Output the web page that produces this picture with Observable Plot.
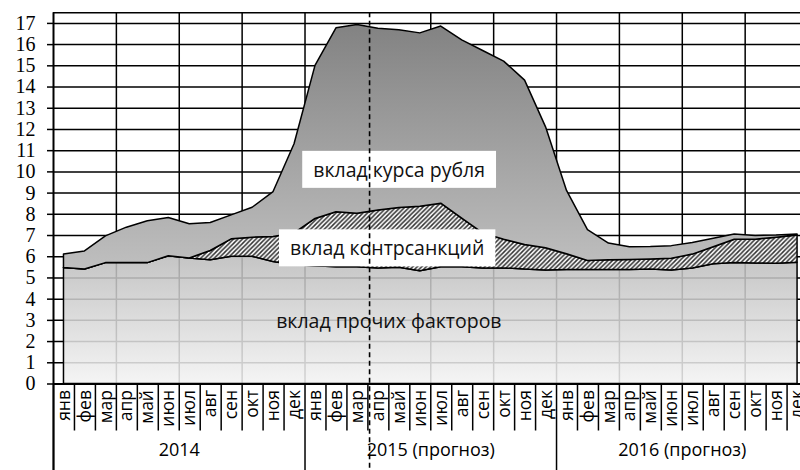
<!DOCTYPE html>
<html><head><meta charset="utf-8">
<script src="https://cdn.jsdelivr.net/npm/d3@7"></script>
<script src="https://cdn.jsdelivr.net/npm/@observablehq/plot@0.6"></script>
<style>
html,body{margin:0;padding:0;background:#fff;overflow:hidden;}
#chart{width:800px;height:470px;}
</style></head>
<body><div id="chart"></div>
<script>
// --- data ---
const monthNames = ["янв","фев","мар","апр","май","июн","июл","авг","сен","окт","ноя","дек"];
const years = ["2014","2015 (прогноз)","2016 (прогноз)"];
const seriesNames = ["вклад прочих факторов","вклад контрсанкций","вклад курса рубля"];
// contribution of other factors (bottom layer)
const otherFactors = [5.47,5.40,5.70,5.70,5.70,6.02,5.92,5.83,6.00,6.00,5.75,5.60,
                      5.55,5.50,5.50,5.45,5.48,5.32,5.50,5.50,5.45,5.45,5.40,5.35,
                      5.38,5.38,5.38,5.38,5.40,5.35,5.45,5.65,5.70,5.68,5.67,5.72];
// contribution of counter-sanctions (hatched)
const counterSanctions = [0,0,0,0,0,0,0,0.44,0.82,0.90,1.18,1.50,
                          2.23,2.60,2.53,2.73,2.82,3.04,3.00,2.30,1.65,1.35,1.15,1.05,
                          0.74,0.42,0.45,0.47,0.47,0.55,0.65,0.80,1.10,1.12,1.23,1.28];
// contribution of the rouble exchange rate (top)
const rubleRate = [0.63,0.85,1.26,1.67,1.97,1.81,1.61,1.32,1.13,1.41,2.12,4.20,
                   7.22,8.67,8.89,8.57,8.38,8.17,8.35,8.40,8.60,8.40,7.75,5.70,
                   2.98,1.45,0.79,0.60,0.59,0.60,0.55,0.40,0.25,0.18,0.10,0.05];
const yTicks = [0,1,2,3,4,5,6,7,8,9,10,11,12,13,14,15,16,17];
const forecastStart = 14.58; // boundary мар/апр 2015
const annotations = [
  {text: seriesNames[2], x: 15.99, y: 10.06, boxed: true},
  {text: seriesNames[1], x: 15.42, y: 6.36, boxed: true},
  {text: seriesNames[0], x: 15.5, y: 2.94, boxed: false}
];

// --- tables built from the arrays ---
const months = [];
years.forEach((yr, yi) => monthNames.forEach((m, mi) => months.push({i: yi*12+mi, label: m})));
const series = [otherFactors, counterSanctions, rubleRate];
const fills = ["url(#gOther)", "url(#hatch)", "url(#gRuble)"];
const rows = [];
months.forEach(m => series.forEach((s, si) => rows.push({i: m.i, series: seriesNames[si], value: s[m.i], fill: fills[si]})));
const gridX = d3.range(2.5, 36, 3).filter(v => v !== 14.5);
const monthBounds = d3.range(0.5, 36, 1).filter(v => (v + 0.5) % 12 !== 0);
const yearBounds = d3.range(-0.5, 36, 12);
const yearCenters = years.map((t, k) => ({t, x: k*12 + 5.5}));

const W = 800, H = 470, mT = 12.3, mB = 86.5, mL = 53;
const plotH = H - mT - mB;
const sans = "'Open Sans', sans-serif";

const chart = Plot.plot({
  width: W, height: H,
  marginTop: mT, marginBottom: mB, marginLeft: mL, marginRight: 0,
  style: {background: "#fff", fontFamily: sans, overflow: "visible"},
  x: {type: "linear", domain: [-0.5, 35.14], axis: null},
  y: {domain: [0, 17.5], axis: null},
  color: {type: "identity"},
  marks: [
    // grid
    Plot.ruleY(yTicks.filter(d => d > 0), {stroke: "#000", strokeWidth: 1.5}),
    Plot.ruleY([17.5], {stroke: "#000", strokeWidth: 1.5}),
    Plot.ruleX(gridX, {stroke: "#000", strokeWidth: 1.5}),
    // stacked areas
    Plot.areaY(rows, {x: "i", y: "value", z: "series", fill: "fill", order: seriesNames,
      stroke: "#000", strokeWidth: 1.5, strokeLinejoin: "round"}),
    // annotations
    Plot.text(annotations, {x: "x", y: "y", text: "text", fontSize: 19.5, fill: "#111", fontFamily: sans}),
    // forecast divider
    Plot.ruleX([forecastStart], {stroke: "#000", strokeWidth: 1.6, strokeDasharray: "5,3.5", insetBottom: -mB}),
    // axes lines
    Plot.ruleY([0], {stroke: "#000", strokeWidth: 2}),
    Plot.ruleX([-0.5], {stroke: "#000", strokeWidth: 2, insetBottom: -mB}),
    Plot.axisY({ticks: yTicks, tickSize: 6, tickPadding: 12, fontSize: 20, fontFamily: "'Liberation Serif', serif",
      stroke: "#000", strokeWidth: 1.5, color: "#000", tickFormat: d => String(d)}),
    // category axis
    Plot.ruleX(monthBounds, {stroke: "#000", strokeWidth: 1.5, insetTop: plotH, insetBottom: -47}),
    Plot.ruleX(yearBounds, {stroke: "#000", strokeWidth: 1.5, insetTop: plotH, insetBottom: -mB}),
    Plot.text(months, {x: "i", text: "label", frameAnchor: "bottom", dy: 6, rotate: -90, textAnchor: "end",
      lineAnchor: "middle", fontSize: 17.5, fill: "#000", fontFamily: sans}),
    Plot.text(yearCenters, {x: "x", text: "t", frameAnchor: "bottom", dy: 72, fontSize: 18, fill: "#000", fontFamily: sans})
  ]
});

document.getElementById("chart").appendChild(chart);

// defs: gradients and hatch pattern, positioned through the y scale
const ys = chart.scale("y");
const svg = d3.select(chart);
const defs = svg.insert("defs", ":first-child");
const g1 = defs.append("linearGradient").attr("id", "gRuble").attr("gradientUnits", "userSpaceOnUse")
  .attr("x1", 0).attr("x2", 0).attr("y1", ys.apply(17)).attr("y2", ys.apply(5.4));
g1.append("stop").attr("offset", 0).attr("stop-color", "#828282");
g1.append("stop").attr("offset", 1).attr("stop-color", "#bfbfbf");
const g2 = defs.append("linearGradient").attr("id", "gOther").attr("gradientUnits", "userSpaceOnUse")
  .attr("x1", 0).attr("x2", 0).attr("y1", ys.apply(6)).attr("y2", ys.apply(0));
g2.append("stop").attr("offset", 0).attr("stop-color", "#bcbcbc").attr("stop-opacity", 0.87);
g2.append("stop").attr("offset", 1).attr("stop-color", "#f3f3f3").attr("stop-opacity", 0.87);
const p = defs.append("pattern").attr("id", "hatch").attr("patternUnits", "userSpaceOnUse")
  .attr("width", 4.5).attr("height", 4.5);
p.append("rect").attr("width", 4.5).attr("height", 4.5).attr("fill", "#fff");
p.append("path").attr("d", "M-1,5.5 L5.5,-1 M-1,1 L1,-1 M3.5,5.5 L5.5,3.5")
  .attr("stroke", "#333").attr("stroke-width", 1.5);

// white boxes behind boxed annotations
const boxed = annotations.filter(a => a.boxed).map(a => a.text);
svg.selectAll("text").each(function() {
  if (!boxed.includes(this.textContent)) return;
  const bb = this.getBBox();
  const r = document.createElementNS("http://www.w3.org/2000/svg", "rect");
  const padX = 11, padY = 5;
  r.setAttribute("x", bb.x - padX); r.setAttribute("y", bb.y - padY);
  r.setAttribute("width", bb.width + 2*padX); r.setAttribute("height", bb.height + 2*padY);
  r.setAttribute("fill", "#fff");
  const t = this.getAttribute("transform"); if (t) r.setAttribute("transform", t);
  this.parentNode.insertBefore(r, this);
});
</script>
</body></html>
